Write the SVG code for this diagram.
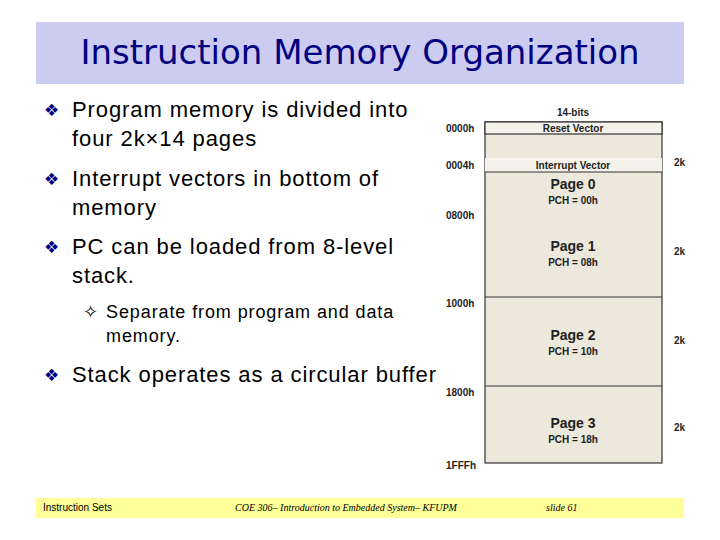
<svg xmlns="http://www.w3.org/2000/svg" width="720" height="540" viewBox="0 0 720 540">
<style>
.b{font-family:"Liberation Sans",Arial,sans-serif;font-size:22px;letter-spacing:0.9px;fill:#000}
.s{font-family:"Liberation Sans",Arial,sans-serif;font-size:18px;letter-spacing:0.9px;fill:#000}
.k{font-family:"DejaVu Sans",sans-serif;font-size:17px;fill:#000080}
.m{font-family:"Liberation Sans",Arial,sans-serif;font-weight:bold;fill:#222}
.f{font-family:"Liberation Serif",serif;font-size:10px;font-style:italic}
.bx{fill:#ece8dc;stroke:#333;stroke-width:1.2}
</style>
<rect width="720" height="540" fill="#fff"/>
<rect x="36" y="22" width="648" height="62" fill="#ccccf0"/>
<text x="360" y="64" text-anchor="middle" font-family="DejaVu Sans,sans-serif" font-size="34" fill="#000080">Instruction Memory Organization</text>
<g id="bullets">
<text x="44" y="116" class="k">❖</text><text x="72" y="117" class="b">Program memory is divided into</text>
<text x="72" y="146" class="b">four 2k×14 pages</text>
<text x="44" y="185" class="k">❖</text><text x="72" y="186" class="b">Interrupt vectors in bottom of</text>
<text x="72" y="215" class="b">memory</text>
<text x="44" y="253" class="k">❖</text><text x="72" y="254" class="b">PC can be loaded from 8-level</text>
<text x="72" y="283" class="b">stack.</text>
<text x="83" y="318" class="s" fill="#000080">✧</text><text x="106" y="318" class="s">Separate from program and data</text>
<text x="106" y="342" class="s">memory.</text>
<text x="44" y="381" class="k">❖</text><text x="72" y="382" class="b">Stack operates as a circular buffer</text>
</g>
<g id="memory">
<rect x="485" y="122" width="177" height="341" class="bx"/>
<rect x="485" y="122" width="177" height="12" fill="#f4f2ea" stroke="#333" stroke-width="1.2"/>
<rect x="485" y="158" width="177" height="14" fill="#f4f2ea" stroke="none"/>
<line x1="485" y1="172" x2="662" y2="172" stroke="#333" stroke-width="1.2"/>
<line x1="485" y1="297" x2="662" y2="297" stroke="#333" stroke-width="1.2"/>
<line x1="485" y1="386" x2="662" y2="386" stroke="#333" stroke-width="1.2"/>
<text x="573" y="116" text-anchor="middle" class="m" font-size="10">14-bits</text>
<text x="573" y="132" text-anchor="middle" class="m" font-size="10">Reset Vector</text>
<text x="573" y="169" text-anchor="middle" class="m" font-size="10">Interrupt Vector</text>
<text x="573" y="189" text-anchor="middle" class="m" font-size="14">Page 0</text>
<text x="573" y="204" text-anchor="middle" class="m" font-size="10">PCH = 00h</text>
<text x="573" y="251" text-anchor="middle" class="m" font-size="14">Page 1</text>
<text x="573" y="266" text-anchor="middle" class="m" font-size="10">PCH = 08h</text>
<text x="573" y="340" text-anchor="middle" class="m" font-size="14">Page 2</text>
<text x="573" y="355" text-anchor="middle" class="m" font-size="10">PCH = 10h</text>
<text x="573" y="428" text-anchor="middle" class="m" font-size="14">Page 3</text>
<text x="573" y="443" text-anchor="middle" class="m" font-size="10">PCH = 18h</text>
<g class="m" font-size="10">
<text x="446" y="132">0000h</text><text x="446" y="169">0004h</text><text x="446" y="219">0800h</text>
<text x="446" y="307">1000h</text><text x="446" y="396">1800h</text><text x="446" y="469">1FFFh</text>
<text x="674" y="166">2k</text><text x="674" y="255">2k</text><text x="674" y="344">2k</text><text x="674" y="431">2k</text>
</g>
</g>
<g id="footer">
<rect x="36" y="498" width="648" height="20" fill="#ffff99"/>
<text x="43" y="511" font-family="Liberation Sans,sans-serif" font-size="10">Instruction Sets</text>
<text x="346" y="511" text-anchor="middle" class="f">COE 306– Introduction to Embedded System– KFUPM</text>
<text x="546" y="511" class="f">slide 61</text>
</g>
</svg>
